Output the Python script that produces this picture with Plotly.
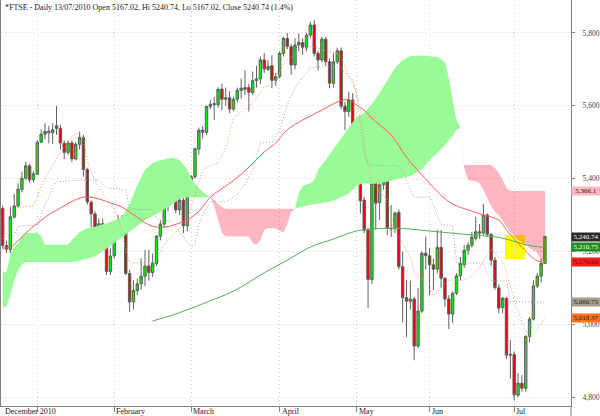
import pandas as pd
import plotly.graph_objects as go

# ---------------- data ----------------
holidays = ['2009-12-25', '2009-12-28', '2010-01-01', '2010-04-02', '2010-04-05', '2010-05-03', '2010-05-31']
days = [d for d in pd.bdate_range('2009-12-17', '2010-07-13') if d.strftime('%Y-%m-%d') not in holidays]

open_ = [5318,5216,5205,5295,5325,5370,5401,5435,5397,5412,5500,5522,5530,5526,5545,5538,5497,5472,5498,5454,
         5494,5512,5425,5335,5303,5260,5276,5217,5145,5188,5246,5282,5252,5139,5061,5092,5111,5132,5160,5142,
         5167,5242,5275,5325,5362,5352,5314,5341,5270,5355,5405,5481,5533,5527,5598,5606,5603,5646,5618,5622,
         5591,5618,5642,5645,5650,5636,5669,5674,5726,5700,5710,5670,5680,5744,5785,5762,5712,5767,5774,5761,
         5794,5822,5744,5726,5783,5721,5662,5721,5751,5599,5584,5616,5552,5410,5341,5258,5123,5387,5334,5383,
         5433,5263,5262,5307,5158,5073,5063,5069,4940,5036,5195,5188,5163,5151,5211,5126,5069,5028,5085,5133,
         5163,5203,5217,5236,5254,5250,5300,5247,5176,5100,5046,5071,4915,4917,4805,4838,4824,4966,5014,5105,
         5132,5167.02]
high = [5326,5230,5323,5358,5387,5419,5446,5440,5420,5505,5535,5552,5545,5552,5600,5548,5505,5505,5505,5500,
        5529,5520,5430,5340,5310,5290,5290,5225,5210,5250,5300,5300,5270,5150,5120,5125,5181,5204,5205,5195,
        5245,5285,5330,5387,5385,5385,5350,5350,5368,5410,5485,5540,5545,5600,5616,5625,5651,5660,5650,5640,
        5625,5650,5675,5698,5660,5694,5710,5735,5745,5725,5739,5690,5750,5790,5800,5770,5785,5799,5785,5800,
        5831,5835,5750,5790,5790,5730,5744,5760,5760,5610,5639,5635,5560,5420,5350,5265,5390,5410,5401,5440,
        5440,5327,5310,5315,5200,5120,5120,5075,5099,5200,5240,5210,5180,5259,5259,5130,5080,5090,5140,5185,
        5217,5225,5254,5295,5275,5330,5305,5250,5185,5110,5075,5075,4957,4925,4866,4860,4970,5020,5121,5140,
        5180,5240.74]
low = [5208,5196,5195,5290,5320,5362,5396,5388,5390,5410,5497,5508,5497,5495,5520,5480,5453,5465,5445,5450,
       5480,5405,5328,5260,5250,5245,5205,5135,5135,5180,5235,5240,5135,5034,5040,5080,5095,5105,5120,5130,
       5160,5230,5265,5310,5340,5305,5300,5250,5255,5350,5400,5465,5510,5520,5590,5561,5595,5588,5600,5580,
       5585,5610,5620,5630,5584,5630,5650,5660,5690,5695,5648,5655,5675,5735,5755,5685,5700,5750,5740,5750,
       5785,5735,5698,5720,5710,5648,5650,5715,5590,5533,5570,5540,5401,5304,5250,5044,5110,5260,5286,5370,
       5245,5240,5250,5150,5005,4965,5040,4901,4935,5030,5150,5080,5094,5140,5100,5048,4987,5003,5080,5120,
       5155,5190,5210,5230,5235,5245,5240,5160,5095,5030,5030,4905,4850,4791,4800,4815,4815,4950,5010,5099,
       5115,5167.02]
close = [5216,5206,5295,5325,5371,5401,5435,5396,5413,5500,5522,5530,5526,5534,5538,5498,5472,5498,5454,5494,
         5513,5425,5336,5303,5262,5276,5217,5145,5187,5246,5282,5252,5139,5061,5093,5111,5132,5160,5142,5168,
         5242,5275,5325,5357,5352,5314,5341,5270,5355,5405,5482,5533,5527,5598,5604,5603,5645,5618,5622,5591,
         5618,5642,5648,5650,5637,5669,5674,5726,5701,5708,5670,5680,5744,5785,5763,5712,5767,5774,5761,5794,
         5822,5744,5726,5783,5721,5662,5721,5751,5599,5584,5616,5552,5410,5339,5258,5123,5387,5332,5383,5433,
         5263,5262,5305,5158,5073,5063,5069,4940,5036,5195,5188,5163,5151,5211,5126,5069,5028,5085,5133,5167,
         5203,5217,5239,5254,5250,5300,5247,5176,5101,5044,5071,4915,4917,4806,4838,4824,4966,5014,5105,5132,
         5167,5240.74]

# Tenkan (orange dotted)
tk_idx = [0,2,3,4,5,8,9,10,11,13,14,16,18,20,21,22,23,24,26,28,29,31,32,33,34,39,40,41,42,43,45,47,48,50,52,54,
          56,58,60,62,64,66,68,71,73,75,78,80,82,85,87,88,90,92,93,94,95,96,100,102,104,106,107,110,112,114,116,
          120,122,124,125,127,128,130,131,133,135,137,138,140,141]
tk_val = [5235,5264,5281,5314,5322,5325,5352,5374,5402,5435,5457,5484,5517,5525,5506,5451,5418,5396,5360,5336,
          5319,5259,5204,5171,5168,5171,5182,5198,5218,5231,5253,5275,5286,5355,5424,5437,5443,5484,5567,5583,
          5597,5621,5652,5663,5718,5734,5753,5762,5759,5748,5745,5731,5682,5643,5588,5506,5437,5388,5341,5259,
          5223,5185,5141,5116,5078,5102,5121,5121,5132,5154,5176,5204,5198,5171,5141,5067,5006,4962,4970,5003,
          5018.37]
# Kijun (grey dotted)
kj_idx = [0,3,4,9,10,11,12,13,14,20,25,27,32,33,39,40,41,44,46,47,48,49,50,51,52,54,58,61,63,65,66,67,70,72,74,
          76,78,80,82,88,89,91,92,93,94,95,103,104,105,106,107,111,112,113,114,117,118,125,126,127,131,132,141]
kj_val = [5204,5245,5270,5272,5300,5327,5347,5380,5391,5396,5396,5374,5369,5316,5315,5292,5286,5283,5253,5240,
          5226,5212,5220,5272,5300,5336,5336,5355,5385,5424,5459,5498,5500,5533,5602,5649,5679,5704,5707,5707,
          5690,5671,5630,5547,5465,5437,5435,5418,5396,5369,5349,5349,5327,5300,5275,5270,5168,5168,5135,5119,
          5119,5062,5060.75]
# moving averages
ma_r_idx = [0,2,4,6,9,12,15,18,21,24,28,31,34,36,38,40,43,46,48,51,54,59,63,68,71,74,78,83,87,90,92,94,97,101,
            105,110,114,117,121,125,129,131,134,137,139,141]
ma_r_val = [5209,5212,5229,5251,5277,5301,5319,5337,5349,5347,5333,5322,5301,5286,5273,5267,5268,5278,5286,5310,
            5349,5387,5421,5473,5498,5534,5561,5588,5610,5617,5602,5588,5556,5520,5459,5399,5354,5330,5314,5300,
            5286,5259,5223,5190,5174,5170.03]
ma_g_idx = [39,45,52,60,68,75,80,86,92,98,104,110,116,122,128,132,136,141]
ma_g_val = [5009,5028,5056,5091,5141,5182,5212,5234,5256,5263,5263,5257,5251,5245,5240,5231,5218,5210.75]

# Ichimoku cloud pieces
g1_idx = [0,1,2,3,4,5,6,9,10,11,17,18,20,22,24,28,31,33,35,36,37,39,41,44,46,48,49,50,52,54]
g1_top = [5143,5143,5193,5212,5223,5240,5251,5251,5242,5218,5218,5231,5253,5264,5268,5281,5295,5330,5382,5402,
          5424,5443,5451,5457,5451,5424,5402,5385,5363,5349]
g1_bot = [5045,5050,5080,5121,5149,5165,5171,5171,5171,5171,5171,5171,5174,5179,5186,5215,5240,5256,5270,5278,
          5286,5297,5308,5328,5344,5349,5349,5349,5349,5349]
p1_idx = [54,55,56,57,58,64,65,66,67,68,69,71,73,74,75,76]
p1_top = [5349,5341,5330,5322,5317,5317,5317,5317,5317,5317,5317,5317,5317,5317,5317,5317]
p1_bot = [5349,5325,5286,5251,5241,5241,5223,5218,5231,5259,5264,5263,5251,5275,5308,5317]
g2_idx = [76,77,78,80,81,82,84,86,88,90,92,94,96,98,100,102,104,106,109,111,113,115,116,117,118,119]
g2_top = [5317,5360,5380,5387,5396,5424,5451,5481,5512,5542,5569,5580,5605,5635,5671,5704,5726,5737,5738,5737,
          5734,5720,5676,5616,5561,5539]
g2_bot = [5317,5321,5323,5328,5329,5332,5334,5339,5349,5359,5380,5388,5385,5388,5391,5396,5402,5407,5426,5451,
          5470,5492,5503,5517,5534,5539]
p2_idx = [119,120,121,123,124,125,126,127,128,129,130,131,132,134,136,137,139,140,141]
p2_top = [5539,5437,5437,5437,5437,5437,5437,5437,5429,5415,5396,5374,5366.1,5366.1,5366.1,5366.1,5366.1,5366.1,5366.1]
p2_bot = [5539,5429,5396,5392,5388,5369,5349,5325,5308,5300,5284,5267,5253,5231,5218,5209,5196,5174,5176]

# highlighted zone
hl_start, hl_end, hl_low, hl_high = 130.6, 135.8, 5179, 5245

# right-hand value tags
tag_vals = [5366.1, 5240.74, 5210.75, 5170.03, 5060.75, 5018.37]
tag_text = ['5,366.1', '5,240.74', '5,210.75', '5,170.03', '5,060.75', '5,018.37']
tag_bg = ['#ffb6c1', '#2b2b2b', '#1e8f1e', '#ff1a1a', '#a89c8c', '#ff6f1f']
tag_fg = ['#202020', '#ffffff', '#ffffff', '#202020', '#202020', '#202020']

month_labels = ['December 2010', '', 'February', 'March', 'April', 'May', 'Jun', 'Jul']
y_ticks = [4800, 5000, 5200, 5400, 5600, 5800]
y_ticktext = ['4,800', '5,000', '5,200', '5,400', '5,600', '5,800']

title = '*FTSE - Daily 13/07/2010 Open 5167.02, Hi 5240.74, Lo 5167.02, Close 5240.74 (1.4%)'

# ---------------- figure ----------------
n = len(days)
assert n == len(open_) == len(high) == len(low) == len(close)
xs = list(range(n))

month_pos = [0]
for i in range(1, n):
    if days[i].month != days[i - 1].month:
        month_pos.append(i)

fig = go.Figure()
SERIF = 'Liberation Serif'


def band(idx, top, bot, color):
    fig.add_trace(go.Scatter(x=list(idx) + list(idx)[::-1], y=list(top) + list(bot)[::-1],
                             fill='toself', fillcolor=color, mode='lines',
                             line=dict(width=0, color=color), hoverinfo='skip', showlegend=False))


GREEN_CLOUD = '#98fb98'
PINK_CLOUD = 'rgba(255,12,48,0.3)'
band(g1_idx, g1_top, g1_bot, GREEN_CLOUD)
band(p1_idx, p1_top, p1_bot, PINK_CLOUD)
band(g2_idx, g2_top, g2_bot, GREEN_CLOUD)
band(p2_idx, p2_top, p2_bot, PINK_CLOUD)

fig.add_trace(go.Candlestick(
    x=xs, open=open_, high=high, low=low, close=close,
    increasing=dict(fillcolor='#00ee00', line=dict(color='#606060', width=1)),
    decreasing=dict(fillcolor='#ee0000', line=dict(color='#606060', width=1)),
    whiskerwidth=0, showlegend=False, hoverinfo='skip'))

DOTS = '1px,2px'
fig.add_trace(go.Scatter(x=ma_g_idx, y=ma_g_val, mode='lines', line=dict(color='#52b152', width=1, shape='spline'),
                         showlegend=False, hoverinfo='skip'))
fig.add_trace(go.Scatter(x=ma_r_idx, y=ma_r_val, mode='lines', line=dict(color='#ff5a5a', width=1, shape='spline'),
                         showlegend=False, hoverinfo='skip'))
fig.add_trace(go.Scatter(x=kj_idx, y=kj_val, mode='lines', line=dict(color='#a0a0a0', width=1, dash=DOTS),
                         showlegend=False, hoverinfo='skip'))
fig.add_trace(go.Scatter(x=tk_idx, y=tk_val, mode='lines', line=dict(color='#ff9068', width=1, dash=DOTS),
                         showlegend=False, hoverinfo='skip'))

fig.add_shape(type='rect', xref='x', yref='y', x0=hl_start, x1=hl_end, y0=hl_low, y1=hl_high,
              fillcolor='#ffff00', line=dict(width=0), layer='below')
fig.add_shape(type='line', xref='paper', yref='paper', x0=1, x1=1, y0=-0.03, y1=0,
              line=dict(color='#808080', width=1))

annotations = [dict(text=title, xref='paper', yref='paper', x=0, y=1, xanchor='left', yanchor='top',
                    xshift=2, yshift=-1, showarrow=False, font=dict(family=SERIF, size=8, color='#202020'))]
for pos, lab in zip(month_pos, month_labels):
    if lab:
        annotations.append(dict(text=lab, xref='x', yref='paper', x=pos, y=0, xanchor='left', yanchor='top',
                                xshift=0, yshift=1, showarrow=False,
                                font=dict(family=SERIF, size=8, color='#202020')))
for v, t, bg, fg in zip(tag_vals, tag_text, tag_bg, tag_fg):
    annotations.append(dict(text=t, xref='paper', yref='y', x=1, y=v, xanchor='left', yanchor='middle',
                            xshift=0, showarrow=False, bgcolor=bg, width=28, height=8, borderpad=0,
                            font=dict(family=SERIF, size=7, color=fg)))

GRID = dict(showgrid=True, gridcolor='#cfcfcf', griddash='1px,3px', gridwidth=1)
fig.update_layout(
    width=600, height=416, margin=dict(l=1, r=29, t=0, b=10),
    paper_bgcolor='white', plot_bgcolor='white', boxgap=0.1,
    annotations=annotations, showlegend=False,
    xaxis=dict(range=[-0.44, 147.77], rangeslider=dict(visible=False), tickmode='array',
               tickvals=month_pos[1:], showticklabels=False, ticks='outside', ticklen=5,
               tickcolor='#808080', showline=True, linecolor='#808080', linewidth=1, zeroline=False, **GRID),
    yaxis=dict(range=[4775.3, 5890.6], side='right', tickmode='array', tickvals=y_ticks, ticktext=y_ticktext,
               ticks='outside', ticklen=3, tickcolor='#808080', ticklabelstandoff=6,
               tickfont=dict(family=SERIF, size=7.5, color='#404040'),
               showline=True, mirror=True, linecolor='#808080', linewidth=1, zeroline=False, **GRID),
)

fig.write_html('out.html', config={'displayModeBar': False},
               post_script="document.body.style.margin='0px';")
